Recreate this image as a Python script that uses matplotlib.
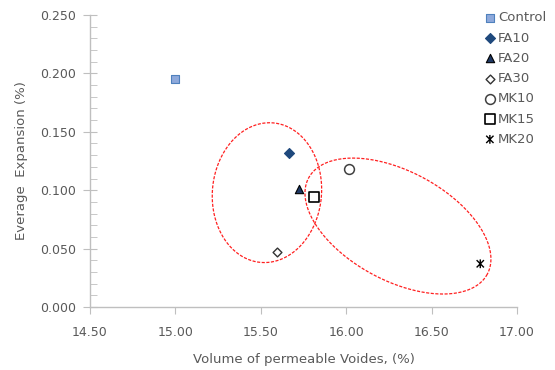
import numpy as np
import matplotlib
matplotlib.use("Agg")
import matplotlib.pyplot as plt
from matplotlib.path import Path
from matplotlib.ticker import MultipleLocator, FormatStrFormatter

# ---- data ----
series_names = ["Control", "FA10", "FA20", "FA30", "MK10", "MK15", "MK20"]
voids_x = [15.00, 15.665, 15.724, 15.595, 16.018, 15.81, 16.785]
expansion_y = [0.195, 0.132, 0.101, 0.047, 0.118, 0.094, 0.037]

# grouping ellipses: centre and two perpendicular half-axis vectors (data units)
ell_centres = [(15.536, 0.0979), (16.303, 0.0693)]
ell_u = [(0.318, -0.0044), (0.523, -0.0412)]
ell_v = [(0.0386, 0.0597), (-0.151, -0.0411)]

x_ticks = [14.5, 15.0, 15.5, 16.0, 16.5, 17.0]
y_ticks = [0.0, 0.05, 0.10, 0.15, 0.20, 0.25]

# ---- styles ----
star = Path([(-1, -1), (1, 1), (-1, 1), (1, -1), (0, -1.2), (0, 1.2)],
            [Path.MOVETO, Path.LINETO, Path.MOVETO, Path.LINETO, Path.MOVETO, Path.LINETO])
styles = [
    dict(marker="s", s=36, facecolor="#8EA9DB", edgecolor="#4F81BD", linewidths=0.8),
    dict(marker="D", s=26, facecolor="#1F497D", edgecolor="#1F497D", linewidths=0.8),
    dict(marker="^", s=36, facecolor="#1F3864", edgecolor="#000000", linewidths=0.8),
    dict(marker="D", s=20, facecolor="white", edgecolor="#333333", linewidths=1.0),
    dict(marker="o", s=50, facecolor="white", edgecolor="#404040", linewidths=1.1),
    dict(marker="s", s=45, facecolor="white", edgecolor="#000000", linewidths=1.2),
    dict(marker=star, s=40, facecolor="none", edgecolor="#000000", color="#000000", linewidths=1.0),
]

fig = plt.figure(figsize=(5.55, 3.70), dpi=100)
ax = fig.add_axes([90 / 555, 63 / 370, 427 / 555, 292 / 370])

handles = []
for name, x, y, st in zip(series_names, voids_x, expansion_y, styles):
    h = ax.scatter([x], [y], label=name, zorder=3, **st)
    handles.append(h)

t = np.linspace(0, 2 * np.pi, 300)
for c, u, v in zip(ell_centres, ell_u, ell_v):
    xs = c[0] + u[0] * np.cos(t) + v[0] * np.sin(t)
    ys = c[1] + u[1] * np.cos(t) + v[1] * np.sin(t)
    ax.plot(xs, ys, color="#FF2020", lw=0.9, ls=(0, (2.5, 1.2)), zorder=2)

ax.set_xlim(14.5, 17.0)
ax.set_ylim(0.0, 0.25)
ax.set_xticks(x_ticks)
ax.set_yticks(y_ticks)
ax.xaxis.set_major_formatter(FormatStrFormatter("%.2f"))
ax.yaxis.set_major_formatter(FormatStrFormatter("%.3f"))
ax.yaxis.set_minor_locator(MultipleLocator(0.01))

axis_col = "#BFBFBF"
text_col = "#595959"
for sp in ["top", "right"]:
    ax.spines[sp].set_visible(False)
for sp in ["left", "bottom"]:
    ax.spines[sp].set_color(axis_col)
    ax.spines[sp].set_linewidth(1.0)
ax.tick_params(axis="y", which="major", direction="inout", length=10, color=axis_col,
               labelcolor=text_col, labelsize=9, pad=5)
ax.tick_params(axis="y", which="minor", direction="in", length=5, color=axis_col)
ax.tick_params(axis="x", which="major", direction="out", length=5, color=axis_col,
               labelcolor=text_col, labelsize=9, pad=9)

ax.set_xlabel("Volume of permeable Voides, (%)", color=text_col, fontsize=9.5, labelpad=10)
ax.set_ylabel("Everage  Expansion (%)", color=text_col, fontsize=9.5, labelpad=9)

leg = fig.legend(handles=handles, loc="upper left", bbox_to_anchor=(478 / 555, 1 - 6 / 370),
                 frameon=False, fontsize=9.5, labelcolor=text_col, handletextpad=0.1,
                 handlelength=1.0, labelspacing=0.55, borderaxespad=0, scatterpoints=1)

fig.savefig("out.png", dpi=100)
